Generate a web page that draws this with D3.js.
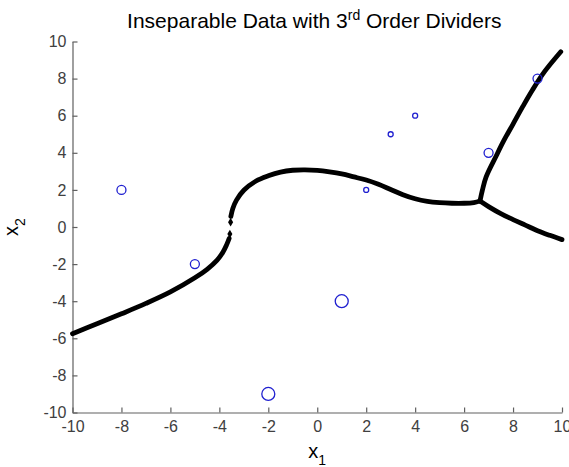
<!DOCTYPE html>
<html>
<head>
<meta charset="utf-8">
<script src="https://cdn.jsdelivr.net/npm/d3@7"></script>
<style>
  body { margin: 0; background: #fff; }
  text { font-family: "Liberation Sans", Arial, sans-serif; }
</style>
</head>
<body>
<svg id="canvas"></svg>
<script>
// data
const xTicks = [-10, -8, -6, -4, -2, 0, 2, 4, 6, 8, 10]
const yTicks = [-10, -8, -6, -4, -2, 0, 2, 4, 6, 8, 10]

const pointX = [-8, -5, -2, 1, 2, 3, 4, 7, 9]
const pointY = [2, -2, -9, -4, 2, 5, 6, 4, 8]
const pointWeight = [2, 2, 3, 3, 1, 1, 1, 2, 2]

// divider curve, left part up to the steep gap
const dividerLeft = [[-10, -5.75], [-9, -5.22], [-8, -4.68], [-7, -4.12], [-6, -3.5], [-5, -2.74],
  [-4.5, -2.28], [-4.1, -1.8], [-3.85, -1.35], [-3.7, -0.95], [-3.6, -0.62]]
// sparse dots inside the steep part
const dividerGap = [[-3.57, -0.38], [-3.54, 0.26]]
// from the gap to the junction
const dividerMid = [[-3.53, 0.57], [-3.45, 1.0], [-3.3, 1.45], [-3.0, 1.98], [-2.5, 2.48], [-2, 2.76],
  [-1.5, 2.96], [-1, 3.06], [-0.5, 3.08], [0, 3.05], [0.5, 2.97], [1, 2.86], [1.5, 2.7], [2, 2.53],
  [2.5, 2.3], [3, 2.02], [3.5, 1.74], [4, 1.52], [4.5, 1.38], [5, 1.31], [5.5, 1.28], [6, 1.28],
  [6.4, 1.32], [6.65, 1.4]]
const dividerUp = [[6.65, 1.4], [6.75, 2.0], [6.9, 2.7], [7.3, 3.8], [7.6, 4.6], [8, 5.55],
  [8.4, 6.5], [8.8, 7.4], [9.3, 8.4], [9.95, 9.45]]
const dividerDown = [[6.65, 1.4], [7, 1.1], [7.5, 0.72], [8, 0.4], [8.5, 0.1], [9, -0.2],
  [9.5, -0.45], [10, -0.68]]

const width = 569
const height = 467
const padLeft = 72.5, padRight = 562, padTop = 41.5, padBottom = 412.5

let svg = d3.select('#canvas')
    .attr('width', width)
    .attr('height', height)

let xScale = d3.scaleLinear().domain([-10, 10]).range([padLeft, padRight])
let yScale = d3.scaleLinear().domain([-10, 10]).range([padBottom, padTop])
let rScale = d3.scaleLinear().domain([1, 3]).range([2.5, 6.5])

// axes, ticks inside like matlab, plain hyphen for minus
let plain = (d) => String(d)
let xAxis = d3.axisBottom(xScale).tickValues(xTicks).tickFormat(plain)
    .tickSizeInner(-5).tickSizeOuter(0).tickPadding(8)
let yAxis = d3.axisLeft(yScale).tickValues(yTicks).tickFormat(plain)
    .tickSizeInner(-5).tickSizeOuter(0).tickPadding(6)

let styleAxis = (g) => {
    g.select('.domain').attr('stroke', '#606060').attr('stroke-width', 1.2)
    g.selectAll('.tick line').attr('stroke', '#606060').attr('stroke-width', 1.2)
    g.selectAll('.tick text')
        .attr('fill', '#404040')
        .style('font-size', '16px')
        .style('font-family', '"Liberation Sans", Arial, sans-serif')
}

svg.append('g')
    .attr('transform', 'translate(0,' + padBottom + ')')
    .call(xAxis)
    .call(styleAxis)

svg.append('g')
    .attr('transform', 'translate(' + padLeft + ',0)')
    .call(yAxis)
    .call(styleAxis)

// divider curves
let line = d3.line()
    .x((d) => xScale(d[0]))
    .y((d) => yScale(d[1]))
    .curve(d3.curveCatmullRom)

let curves = [dividerLeft, dividerMid, dividerUp, dividerDown]
svg.selectAll('path.divider')
    .data(curves)
    .enter()
    .append('path')
    .attr('class', 'divider')
    .attr('d', line)
    .attr('fill', 'none')
    .attr('stroke', '#000')
    .attr('stroke-width', 4.8)
    .attr('stroke-linecap', 'round')

svg.selectAll('path.gapdot')
    .data(dividerGap)
    .enter()
    .append('path')
    .attr('class', 'gapdot')
    .attr('d', d3.symbol(d3.symbolDiamond, 22))
    .attr('transform', (d) => 'translate(' + xScale(d[0]) + ',' + yScale(d[1]) + ')')
    .attr('fill', '#000')

// data points
svg.selectAll('circle')
    .data(pointX.map((x, i) => [x, pointY[i], pointWeight[i]]))
    .enter()
    .append('circle')
    .attr('cx', (d) => xScale(d[0]))
    .attr('cy', (d) => yScale(d[1]))
    .attr('r', (d) => rScale(d[2]))
    .attr('fill', 'none')
    .attr('stroke', '#2020d0')
    .attr('stroke-width', 1.3)

// title
let title = svg.append('text')
    .attr('x', (padLeft + padRight) / 2 - 3)
    .attr('y', 28)
    .attr('text-anchor', 'middle')
    .style('font-size', '21px')
    .attr('fill', '#000')
title.append('tspan').text('Inseparable Data with 3')
title.append('tspan').text('rd').attr('dy', -8).style('font-size', '14px')
title.append('tspan').text(' Order Dividers').attr('dy', 8)

// x label
let xLabel = svg.append('text')
    .attr('x', (padLeft + padRight) / 2)
    .attr('y', 458)
    .attr('text-anchor', 'middle')
    .style('font-size', '20px')
    .attr('fill', '#000')
xLabel.append('tspan').text('x')
xLabel.append('tspan').text('1').attr('dy', 7).style('font-size', '14px')

// y label
let yLabel = svg.append('text')
    .attr('transform', 'translate(18,' + ((padTop + padBottom) / 2) + ') rotate(-90)')
    .attr('text-anchor', 'middle')
    .style('font-size', '20px')
    .attr('fill', '#000')
yLabel.append('tspan').text('x')
yLabel.append('tspan').text('2').attr('dy', 7).style('font-size', '14px')
</script>
</body>
</html>
